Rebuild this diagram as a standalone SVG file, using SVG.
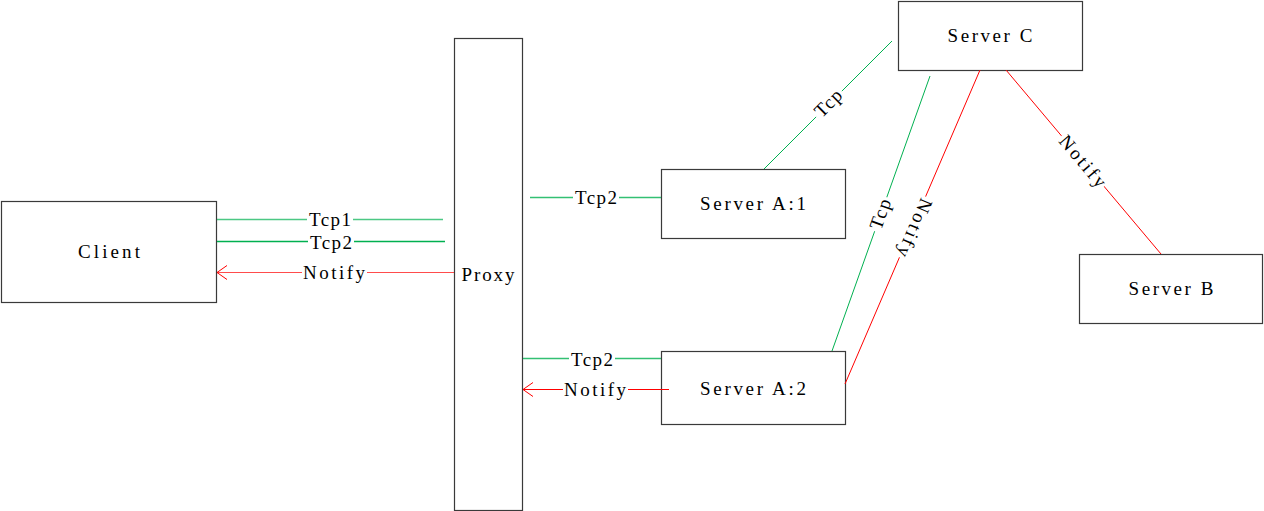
<svg xmlns="http://www.w3.org/2000/svg" width="1264" height="511" viewBox="0 0 1264 511">
<style>
.box{fill:#fff;stroke:#3a3a3a;stroke-width:1.2}
.t{font-family:"Liberation Serif","DejaVu Serif",serif;font-size:19px;fill:#000;text-anchor:middle;dominant-baseline:central}
.bg{fill:#fff;stroke:none}
.g{stroke:#00b050;stroke-width:1;fill:none}
.gh{stroke:#00b050;stroke-width:1.4;fill:none}
.r{stroke:#ff0000;stroke-width:1;fill:none}
</style>
<defs>
<marker id="arr" markerUnits="userSpaceOnUse" markerWidth="20" markerHeight="20" viewBox="-12 -10 14 20" refX="0" refY="0" orient="auto">
<path d="M-10,-7 L0,0 L-10,7" fill="none" stroke="#ff0000" stroke-width="1"/>
</marker>
</defs>
<rect width="1264" height="511" fill="#fff"/>
<g id="nodes">
<g id="client"><rect class="box" x="1.5" y="201.5" width="215" height="101"/><text class="t" x="109" y="251" textLength="62" lengthAdjust="spacing">Client</text></g>
<g id="proxy"><rect class="box" x="454.5" y="38.5" width="68" height="472"/><text class="t" x="488" y="274" textLength="53" lengthAdjust="spacing">Proxy</text></g>
<g id="serverA1"><rect class="box" x="661.5" y="169.5" width="184" height="69"/><text class="t" x="753" y="203" textLength="106" lengthAdjust="spacing">Server A:1</text></g>
<g id="serverA2"><rect class="box" x="661.5" y="351.5" width="184" height="73"/><text class="t" x="753" y="388" textLength="106" lengthAdjust="spacing">Server A:2</text></g>
<g id="serverC"><rect class="box" x="898.5" y="1.5" width="184" height="69"/><text class="t" x="990" y="35" textLength="85" lengthAdjust="spacing">Server C</text></g>
<g id="serverB"><rect class="box" x="1079.5" y="254.5" width="183" height="69"/><text class="t" x="1171" y="288" textLength="85" lengthAdjust="spacing">Server B</text></g>
</g>
<g id="connectors">
<line class="gh" x1="217" y1="219.5" x2="443" y2="219.5" stroke-opacity="0.7"/>
<rect class="bg" x="307" y="211" width="46" height="17"/>
<text class="t" x="330" y="219" textLength="42" lengthAdjust="spacing">Tcp1</text>
<line class="gh" x1="217" y1="241.5" x2="445" y2="241.5"/>
<rect class="bg" x="308" y="233" width="46" height="17"/>
<text class="t" x="331" y="242" textLength="42" lengthAdjust="spacing">Tcp2</text>
<line class="r" x1="454" y1="272.5" x2="217" y2="272.5" stroke-opacity="0.7" stroke-width="1.5" marker-end="url(#arr)"/>
<rect class="bg" x="302" y="264" width="65" height="17"/>
<text class="t" x="334" y="272" textLength="62" lengthAdjust="spacing">Notify</text>
<line class="gh" x1="530" y1="197.5" x2="661" y2="197.5" stroke-opacity="0.8"/>
<rect class="bg" x="573" y="189" width="46" height="17"/>
<text class="t" x="596" y="197" textLength="42" lengthAdjust="spacing">Tcp2</text>
<line class="gh" x1="523" y1="358.5" x2="661" y2="358.5" stroke-opacity="0.8"/>
<rect class="bg" x="569" y="350" width="46" height="17"/>
<text class="t" x="592" y="359" textLength="42" lengthAdjust="spacing">Tcp2</text>
<line class="r" x1="669" y1="389.5" x2="523" y2="389.5" marker-end="url(#arr)"/>
<rect class="bg" x="563" y="381" width="65" height="17"/>
<text class="t" x="595" y="389" textLength="62" lengthAdjust="spacing">Notify</text>
<line class="g" x1="764" y1="169" x2="892" y2="41"/>
<g transform="translate(828,103) rotate(-45)"><rect class="bg" x="-18" y="-8" width="36" height="16"/><text class="t" x="0" y="0" textLength="31" lengthAdjust="spacing">Tcp</text></g>
<line class="g" x1="832" y1="351" x2="930" y2="76"/>
<g transform="translate(880,214) rotate(-70.4)"><rect class="bg" x="-18" y="-8" width="36" height="16"/><text class="t" x="0" y="0" textLength="31" lengthAdjust="spacing">Tcp</text></g>
<line class="r" x1="845" y1="384" x2="980" y2="70"/>
<g transform="translate(915,228) rotate(113.3)"><rect class="bg" x="-33" y="-8" width="66" height="16"/><text class="t" x="0" y="0" textLength="62" lengthAdjust="spacing">Notify</text></g>
<line class="r" x1="1006" y1="70" x2="1161" y2="254"/>
<g transform="translate(1083,161) rotate(49.9)"><rect class="bg" x="-33" y="-8" width="66" height="16"/><text class="t" x="0" y="0" textLength="62" lengthAdjust="spacing">Notify</text></g>
</g>
</svg>
